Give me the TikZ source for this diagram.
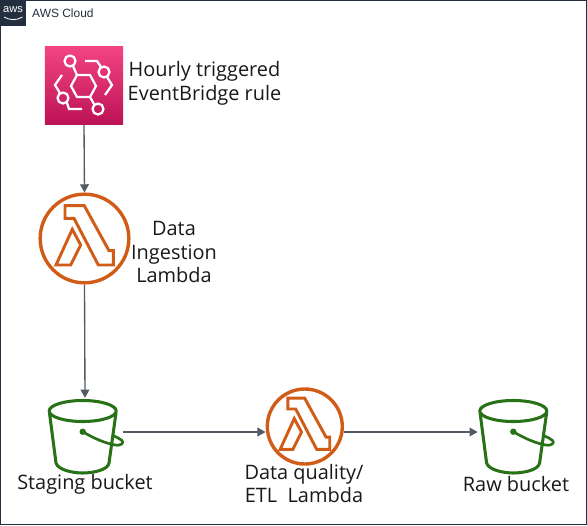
\documentclass[tikz,border=0pt]{standalone}
\usepackage{fontspec}
\setmainfont{Open Sans}
\newfontfamily\awsfont{Liberation Sans}
\usepackage{xcolor}
\usetikzlibrary{arrows.meta,positioning,calc}
\definecolor{awsdark}{HTML}{232F3E}
\definecolor{flowgray}{HTML}{545B64}
\definecolor{lambdaorange}{HTML}{D05C17}
\definecolor{bucketgreen}{HTML}{277116}
\definecolor{rulepinktop}{HTML}{F34482}
\definecolor{rulepinkbot}{HTML}{BC1356}
\tikzset{
    flow/.style={draw=flowgray, line width=1.15pt, -{Triangle[length=7pt,width=7.5pt]}},
    label/.style={align=center, text=black!90, font=\fontsize{17}{20.2}\selectfont},
    ruleicon/.style={rectangle, minimum size=2.34cm, inner sep=0pt, top color=rulepinktop, bottom color=rulepinkbot},
    lambdaring/.style={circle, draw=lambdaorange, line width=2.9pt, fill=white, inner sep=0pt},
    bucketnode/.style={rectangle, minimum width=2.26cm, minimum height=2.04cm, inner sep=0pt},
    lambdaglyph/.pic={
        \draw[lambdaorange, line width=2.5pt, line join=miter]
            (-19.5,-32.8) -- (-0.2,-32.8) -- (24.5,12.2) -- (28.8,12.2) -- (28.8,26.5)
            -- (13.8,26.5) -- (-10.5,-20.2) -- (-19.5,-20.2) -- cycle;
        \draw[lambdaorange, line width=2.5pt, line join=miter]
            (-12.2,-9.2) -- (-3.8,6.5) -- (-13.8,26.5) -- (-28.5,26.5) -- cycle;
    },
    bucketglyph/.pic={
        \draw[bucketgreen, line width=2.6pt] (-2.3,-21) ellipse [x radius=33.5, y radius=10.5];
        \draw[bucketgreen, line width=2.6pt, line join=round]
            (-35.5,-19) -- (-29,31) .. controls (-27,38) and (-12,41) .. (-2.3,41)
            .. controls (8,41) and (23,38) .. (24,31) -- (31,-19);
        \fill[bucketgreen] (-2.3,-0.3) circle (3.2);
        \draw[bucketgreen, line width=2.3pt, line join=round]
            (-2.3,-0.3) .. controls (10,7) and (20,11) .. (30,13)
            .. controls (37,14) and (39,10.5) .. (37,8.5) .. controls (35,6.5) and (32,5.5) .. (29,4);
    }
}
\begin{document}
\begin{tikzpicture}[x=0.03cm, y=-0.03cm]
    \useasboundingbox (0,0) rectangle (587,525);
    \fill[white] (0,0) rectangle (587,525);

    % Cloud frame
    \draw[awsdark, line width=1.2pt] (0.5,0.5) rectangle (586.4,524.2);
    \fill[awsdark] (0,0) rectangle (25.5,25.5);
    \node[text=white, inner sep=0pt, font=\awsfont\fontsize{9.5}{10}\selectfont] (awslogo) at (13,10) {aws};
    \draw[white, line width=0.7pt] (4,17) .. controls (10,20.5) and (17,20.5) .. (22.5,17);
    \node[anchor=west, inner sep=0pt, text=awsdark, font=\awsfont\fontsize{10.2}{12}\selectfont] (cloudlabel) at (32,13.5) {AWS Cloud};

    % Trigger
    \node[ruleicon] (rule) at (84,85.5) {};
    \begin{scope}[white, line width=1.9pt]
        \draw (71,86) -- (77,75) -- (90,75) -- (96,86) -- (90,97) -- (77,97) -- cycle;
        \draw (70,61) circle (5.5);
        \draw (104,72) circle (5.5);
        \draw (63,98) circle (5.5);
        \draw (98,109) circle (5.5);
        \draw (73,66) -- (77,75);
        \draw (90,97) -- (94,104);
        \draw (85,61) -- (97,61) -- (101,67);
        \draw (107,77) -- (112,85) -- (105,95);
        \draw (62,75) -- (55,85) -- (60,93);
        \draw (67,103) -- (69,109) -- (82,109);
    \end{scope}
    \node[label] (rulelabel) at (204.5,83.5) {Hourly triggered\\EventBridge rule};

    % Lambdas
    \node[lambdaring, minimum size=2.66cm] (ingest) at (84.5,238.5) {};
    \pic at (ingest) {lambdaglyph};
    \node[label] (ingestlabel) at (174,252) {Data\\Ingestion\\Lambda};

    \node[lambdaring, minimum size=2.25cm] (etl) at (304.8,426.5) {};
    \pic[scale=0.865] at (etl) {lambdaglyph};
    \node[label] (etllabel) at (304,483.5) {Data quality/\\ETL\ \ Lambda};

    % Buckets
    \node[bucketnode] (staging) at (85,432) {};
    \pic at (staging) {bucketglyph};
    \node[label] (staginglabel) at (85,484.5) {Staging bucket};

    \node[bucketnode] (raw) at (515.6,432) {};
    \pic at (raw) {bucketglyph};
    \node[label] (rawlabel) at (516,484.5) {Raw bucket};

    % Flow
    \draw[flow] (rule.south) -- (ingest.north);
    \draw[flow] (ingest.south) -- (staging.north);
    \draw[flow] (staging.east) -- (etl.west |- staging.east);
    \draw[flow] (etl.east |- raw.west) -- (raw.west);
\end{tikzpicture}
\end{document}
